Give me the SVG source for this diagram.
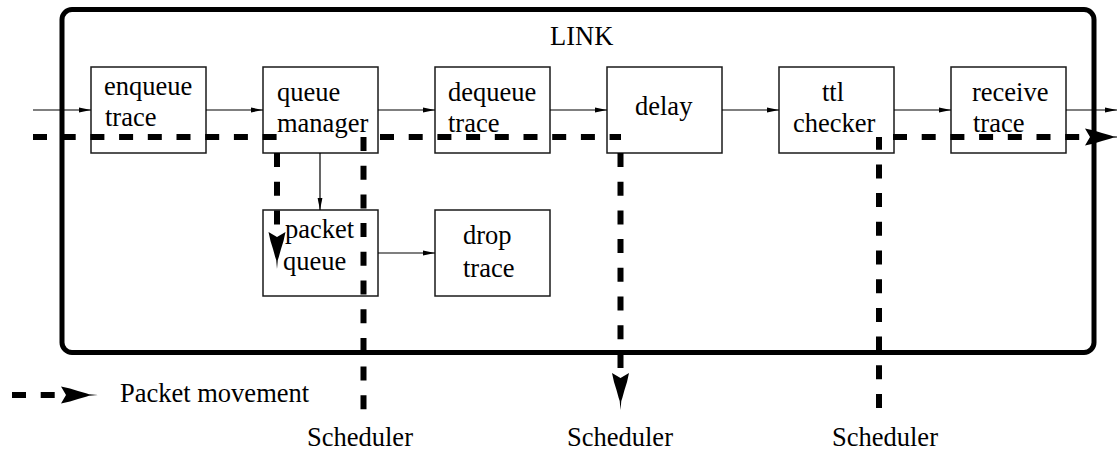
<svg xmlns="http://www.w3.org/2000/svg" width="1117" height="451" viewBox="0 0 1117 451">
  <style>
    .box { fill: none; stroke: #1a1a1a; stroke-width: 1.5; }
    .link { fill: none; stroke: #000; stroke-width: 5; }
    .lbl { font-family: "Liberation Serif", "Times New Roman", serif; font-size: 26.5px; fill: #000; }
    .flow { fill: none; stroke: #000; stroke-width: 1.2; marker-end: url(#tip); }
    .pkt { fill: none; stroke: #000; stroke-width: 6; stroke-dasharray: 14 14.7; }
    .barb { fill: #000; }
  </style>
  <defs>
    <marker id="tip" viewBox="0 0 12 6" refX="12" refY="3" markerWidth="12" markerHeight="6" markerUnits="userSpaceOnUse" orient="auto">
      <path d="M0,0.6 L12,3 L0,5.4 Z" fill="#000"/>
    </marker>
    <!-- barbed head for packet movement, tip at origin, pointing +x -->
    <path id="barb" d="M0,0 L-9,-0.8 L-12,-1.8 L-20,-4 L-28,-6.5 L-37,-8.5 L-32,0 L-37,8.5 L-28,6.5 L-20,4 L-12,1.8 L-9,0.8 Z"/>
  </defs>

  <!-- LINK container -->
  <g id="link">
    <rect class="link" x="62" y="9.5" width="1032" height="343" rx="10"/>
    <text class="lbl" x="550" y="45">LINK</text>
  </g>

  <g id="enqueue-trace">
    <rect class="box" x="91" y="67" width="115" height="86"/>
    <text class="lbl" x="104" y="95">enqueue</text>
    <text class="lbl" x="105" y="126">trace</text>
  </g>
  <g id="queue-manager">
    <rect class="box" x="263" y="67" width="115" height="86"/>
    <text class="lbl" x="277" y="101">queue</text>
    <text class="lbl" x="277" y="132">manager</text>
  </g>
  <g id="dequeue-trace">
    <rect class="box" x="435" y="67" width="115" height="86"/>
    <text class="lbl" x="448" y="101">dequeue</text>
    <text class="lbl" x="448" y="132">trace</text>
  </g>
  <g id="delay">
    <rect class="box" x="607" y="67" width="115" height="86"/>
    <text class="lbl" x="635" y="115">delay</text>
  </g>
  <g id="ttl-checker">
    <rect class="box" x="779" y="67" width="115" height="86"/>
    <text class="lbl" x="822" y="101">ttl</text>
    <text class="lbl" x="793" y="132">checker</text>
  </g>
  <g id="receive-trace">
    <rect class="box" x="951" y="67" width="115" height="86"/>
    <text class="lbl" x="972" y="101">receive</text>
    <text class="lbl" x="973" y="132">trace</text>
  </g>
  <g id="packet-queue">
    <rect class="box" x="263" y="210" width="115" height="86"/>
    <text class="lbl" x="285" y="238">packet</text>
    <text class="lbl" x="283" y="270">queue</text>
  </g>
  <g id="drop-trace">
    <rect class="box" x="435" y="210" width="115" height="86"/>
    <text class="lbl" x="463" y="244">drop</text>
    <text class="lbl" x="463" y="277">trace</text>
  </g>

  <g id="schedulers">
    <text class="lbl" x="307" y="446">Scheduler</text>
    <text class="lbl" x="567" y="446">Scheduler</text>
    <text class="lbl" x="832" y="446">Scheduler</text>
  </g>

  <g id="connectors">
    <!-- object chain -->
    <line class="flow" x1="33" y1="110" x2="91" y2="110"/>
    <line class="flow" x1="206" y1="110" x2="263" y2="110"/>
    <line class="flow" x1="378" y1="110" x2="435" y2="110"/>
    <line class="flow" x1="550" y1="110" x2="607" y2="110"/>
    <line class="flow" x1="722" y1="110" x2="779" y2="110"/>
    <line class="flow" x1="894" y1="110" x2="951" y2="110"/>
    <line class="flow" x1="1066" y1="110" x2="1117" y2="110"/>
    <line class="flow" x1="320" y1="153" x2="320" y2="210"/>
    <line class="flow" x1="378" y1="253" x2="435" y2="253"/>

    <!-- packet movement paths -->
    <line class="pkt" x1="33" y1="137" x2="277" y2="137"/>
    <line class="pkt" x1="277" y1="153" x2="277" y2="234"/>
    <use class="barb" href="#barb" transform="translate(277,269) rotate(90)"/>

    <line class="pkt" x1="363.5" y1="137" x2="363.5" y2="410"/>
    <line class="pkt" x1="380" y1="137" x2="621" y2="137"/>
    <line class="pkt" x1="620.5" y1="153" x2="620.5" y2="368"/>
    <use class="barb" href="#barb" transform="translate(620.5,410) rotate(90)"/>

    <line class="pkt" x1="879" y1="408" x2="879" y2="137"/>
    <line class="pkt" x1="893" y1="137" x2="1080" y2="137"/>
    <use class="barb" href="#barb" transform="translate(1122,137)"/>
  </g>

  <!-- legend -->
  <g id="legend">
    <line class="pkt" x1="12" y1="395" x2="56" y2="395"/>
    <use class="barb" href="#barb" transform="translate(98,395)"/>
    <text class="lbl" x="120" y="402">Packet movement</text>
  </g>
</svg>
